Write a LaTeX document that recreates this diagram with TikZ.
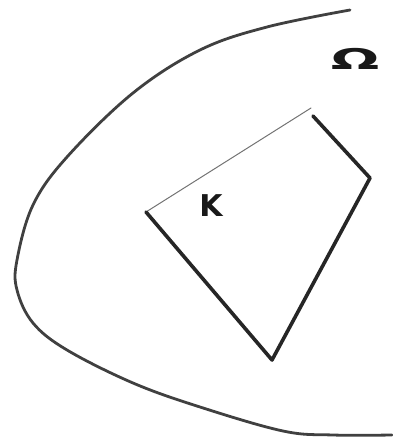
\documentclass[tikz,border=0pt]{standalone}
\usepackage{fontspec}
\setmainfont{DejaVu Sans}
\begin{document}
\begin{tikzpicture}[x=1pt,y=-1pt,
  outer/.style={draw=black!75,line width=2.8pt,line cap=round,line join=round},
  thinedge/.style={draw=black!55,line width=1pt,line cap=round},
  thickedge/.style={draw=black!85,line width=3.6pt,line cap=round,line join=round},
  lbl/.style={font=\fontsize{30}{30}\selectfont\bfseries,text=black!90,inner sep=0pt}]
\useasboundingbox (0,0) rectangle (392,441);
% domain boundary
\draw[outer] plot[smooth,tension=0.6] coordinates {(350,10) (267,27) (200,50) (133,93) (67,157) (33,205) (17,260) (17,290) (33,323) (67,350) (133,383) (200,407) (283,431) (333,435) (392,435)};
% quadrilateral K
\coordinate (A) at (146,212);
\coordinate (B) at (311,108);
\coordinate (C) at (313,116);
\coordinate (D) at (370,178);
\coordinate (E) at (272,360);
\draw[thinedge] (A) -- (B);
\draw[thickedge] (C) -- (D) -- (E) -- (A);
\node[lbl] (K) at (211,206) {K};
\node[lbl,xscale=1.9,yscale=0.95] (Om) at (355,59) {Ω};
\end{tikzpicture}
\end{document}
